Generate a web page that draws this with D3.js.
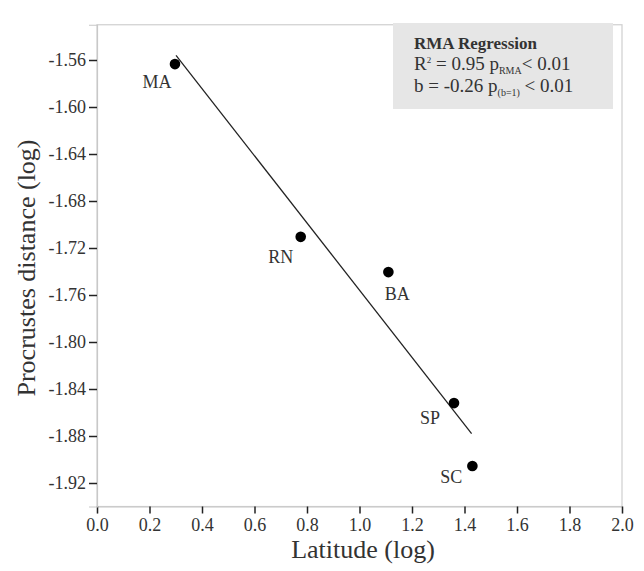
<!DOCTYPE html>
<html lang="en">
<head>
<meta charset="UTF-8">
<title>Procrustes distance vs latitude</title>
<script src="https://d3js.org/d3.v7.min.js"></script>
<style>
  body { margin: 0; background: #fff; }
  text { font-family: "Liberation Serif", "Times New Roman", serif; fill: #333; }
</style>
</head>
<body>
<script>
// data
let sites = ["MA", "RN", "BA", "SP", "SC"];
let latitude = [0.297, 0.776, 1.11, 1.36, 1.43];
let distance = [-1.5635, -1.7105, -1.7405, -1.852, -1.9055];
let fitX = [0.301, 1.427];
let fitY = [-1.556, -1.878];
let xTicks = [0.0, 0.2, 0.4, 0.6, 0.8, 1.0, 1.2, 1.4, 1.6, 1.8, 2.0];
let yTicks = [-1.56, -1.60, -1.64, -1.68, -1.72, -1.76, -1.80, -1.84, -1.88, -1.92];

let width = 644, height = 571;
let yMin = -1.94, yMax = -1.53;

let svg = d3.select("body").append("svg")
    .attr("width", width)
    .attr("height", height);

let x = d3.scaleLinear().domain([0, 2]).range([97, 622]);
let y = d3.scaleLinear().domain([yMin, yMax]).range([506.5, 24.75]);

// frame
svg.append("rect")
    .attr("x", x(0)).attr("y", y(yMax))
    .attr("width", x(2) - x(0)).attr("height", y(yMin) - y(yMax))
    .attr("fill", "none").attr("stroke", "#cfcfcf").attr("stroke-width", 1.2);

let xAxis = svg.append("g")
    .attr("transform", "translate(0," + y(yMin) + ")")
    .call(d3.axisBottom(x).tickValues(xTicks).tickFormat(d3.format(".1f")).tickSize(7).tickPadding(5));

let yAxis = svg.append("g")
    .attr("transform", "translate(" + x(0) + ",0)")
    .call(d3.axisLeft(y).tickValues(yTicks).tickFormat(d => d.toFixed(2)).tickSize(8).tickPadding(3));

[xAxis, yAxis].forEach(function (g) {
    g.select(".domain").attr("stroke", "#c8c8c8").attr("stroke-width", 1.2);
    g.selectAll(".tick line").attr("stroke", "#222").attr("stroke-width", 1.5);
    g.selectAll(".tick text").style("font-size", "18px").attr("fill", "#333")
        .style("font-family", '"Liberation Serif", serif');
});

// regression line
svg.append("line")
    .attr("x1", x(fitX[0])).attr("y1", y(fitY[0]))
    .attr("x2", x(fitX[1])).attr("y2", y(fitY[1]))
    .attr("stroke", "#222").attr("stroke-width", 1.3);

let pts = sites.map((s, i) => ({site: s, lat: latitude[i], d: distance[i]}));

svg.selectAll("circle.pt")
    .data(pts)
    .enter().append("circle")
    .attr("class", "pt")
    .attr("cx", d => x(d.lat))
    .attr("cy", d => y(d.d))
    .attr("r", 5.3)
    .attr("fill", "#000");

let labelOffset = {MA: [-18, 24], RN: [-20, 26], BA: [9, 28], SP: [-24, 21], SC: [-21, 17]};
svg.selectAll("text.lab")
    .data(pts)
    .enter().append("text")
    .attr("class", "lab")
    .attr("x", d => x(d.lat) + labelOffset[d.site][0])
    .attr("y", d => y(d.d) + labelOffset[d.site][1])
    .attr("text-anchor", "middle")
    .style("font-size", "18px")
    .text(d => d.site);

// axis titles
svg.append("text")
    .attr("x", 363).attr("y", 558)
    .attr("text-anchor", "middle")
    .style("font-size", "26px")
    .text("Latitude (log)");

svg.append("text")
    .attr("transform", "translate(35,268) rotate(-90)")
    .attr("text-anchor", "middle")
    .style("font-size", "26px")
    .text("Procrustes distance (log)");

// stats box
let box = svg.append("g").attr("transform", "translate(393,23)");
box.append("rect").attr("width", 220).attr("height", 86).attr("fill", "#e6e6e6");
box.append("text").attr("x", 21).attr("y", 26)
    .style("font-size", "17px").style("font-weight", "bold").text("RMA Regression");

let l2 = box.append("text").attr("x", 21).attr("y", 47).style("font-size", "19px");
l2.append("tspan").text("R");
l2.append("tspan").attr("dy", -7).style("font-size", "9px").text("2");
l2.append("tspan").attr("dy", 7).text(" = 0.95 p");
l2.append("tspan").attr("dy", 4).style("font-size", "10px").text("RMA");
l2.append("tspan").attr("dy", -4).text("< 0.01");

let l3 = box.append("text").attr("x", 21).attr("y", 69).style("font-size", "19px");
l3.append("tspan").text("b = -0.26 p");
l3.append("tspan").attr("dy", 4).style("font-size", "10px").text("(b=1)");
l3.append("tspan").attr("dy", -4).text(" < 0.01");
</script>
</body>
</html>
